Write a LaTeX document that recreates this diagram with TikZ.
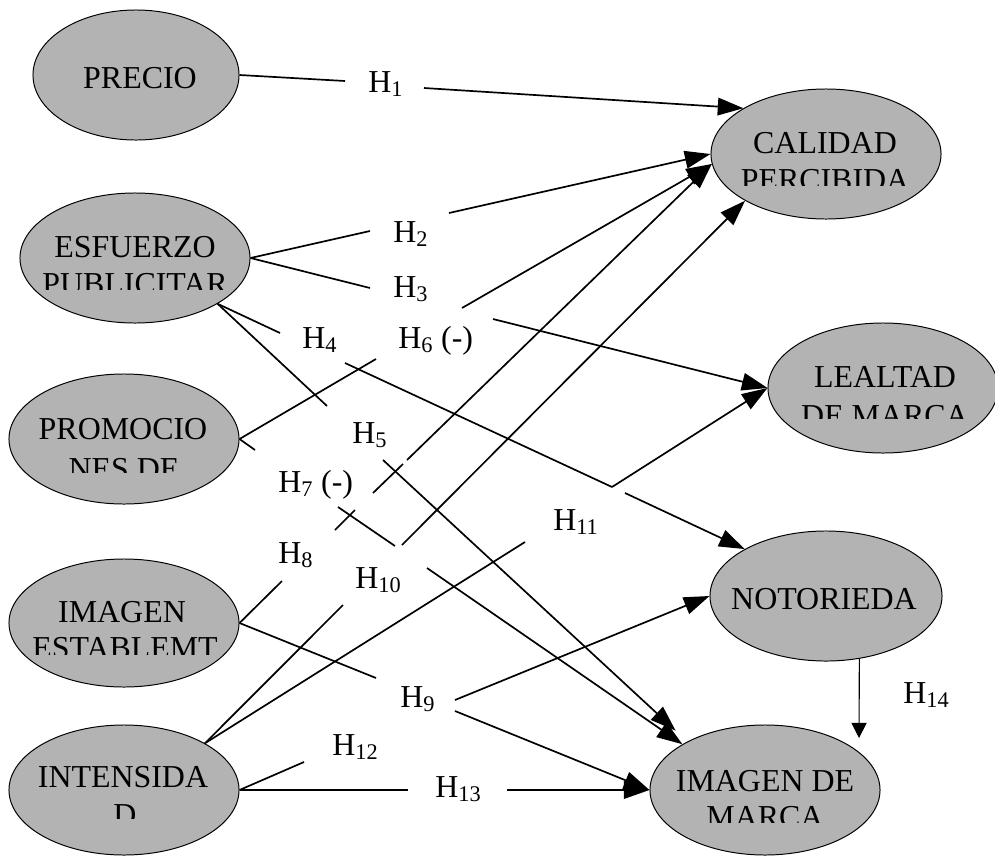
\documentclass[tikz,border=0pt]{standalone}
\usepackage{fontspec}
\setmainfont{Liberation Serif}
\usepackage{tikz}
\usetikzlibrary{arrows.meta,shapes.geometric}
\definecolor{factgray}{HTML}{B3B3B3}

\begin{document}
\begin{tikzpicture}[
    x=0.025cm, y=-0.025cm,
    factor/.style={ellipse, draw=black, line width=0.7pt, fill=factgray, minimum width=5.75cm, minimum height=3.25cm, inner sep=0pt},
    word/.style={anchor=base, inner sep=0pt, font=\fontsize{22.7}{26}\selectfont},
    hyp/.style={anchor=base west, inner sep=0pt, font=\fontsize{22.7}{26}\selectfont},
    hline/.style={line width=1.2pt},
    harrow/.style={line width=1.2pt, -{Triangle[length=6.4mm, width=4.4mm]}}
]
\useasboundingbox (0,0) rectangle (995,856);

% constructs
\node[factor, minimum width=5.15cm] (precio) at (136,75) {};
\node[factor] (esfuerzo) at (135,258) {};
\node[factor] (calidad) at (826,154) {};
\node[factor] (promo) at (124,439) {};
\node[factor] (lealtad) at (883,388) {};
\node[factor, minimum height=3.2cm] (imgest) at (124,623) {};
\node[factor] (intens) at (124,790) {};
\node[factor, minimum width=5.8cm] (notor) at (826,596) {};
\node[factor] (imgmarca) at (765,790) {};

\node[word] (precio-a) at (140,88) {PRECIO};
\node[word] (esfuerzo-a) at (135,257) {ESFUERZO};
\begin{scope}
  \clip (15,260) rectangle (255,289);
  \node[word] (esfuerzo-b) at (135,294) {PUBLICITAR};
\end{scope}
\node[word] (calidad-a) at (825,153) {CALIDAD};
\begin{scope}
  \clip (705,160) rectangle (945,185);
  \node[word] (calidad-b) at (825,190) {PERCIBIDA};
\end{scope}
\node[word] (promo-a) at (123,439) {PROMOCIO};
\begin{scope}
  \clip (5,450) rectangle (240,472);
  \node[word] (promo-b) at (124,479) {NES DE};
\end{scope}
\node[word] (lealtad-a) at (885,387) {LEALTAD};
\begin{scope}
  \clip (770,395) rectangle (995,418);
  \node[word] (lealtad-b) at (885,426) {DE MARCA};
\end{scope}
\node[word] (imgest-a) at (122,622) {IMAGEN};
\begin{scope}
  \clip (5,630) rectangle (240,654);
  \node[word] (imgest-b) at (125,658) {ESTABLEMT};
\end{scope}
\node[word] (intens-a) at (123,787) {INTENSIDA};
\begin{scope}
  \clip (5,795) rectangle (240,818);
  \node[word] (intens-b) at (125,825) {D};
\end{scope}
\node[word] (notor-a) at (824,609) {NOTORIEDA};
\node[word] (imgmarca-a) at (765,791) {IMAGEN DE};
\begin{scope}
  \clip (650,797) rectangle (880,822);
  \node[word] (imgmarca-b) at (765,827) {MARCA};
\end{scope}

% hypotheses
\node[hyp] (h1) at (368,92) {H\textsubscript{1}};
\node[hyp] (h2) at (393,242) {H\textsubscript{2}};
\node[hyp] (h3) at (393,297) {H\textsubscript{3}};
\node[hyp] (h4) at (302,348) {H\textsubscript{4}};
\node[hyp] (h6) at (398,348) {H\textsubscript{6} (-)};
\node[hyp] (h5) at (352,443) {H\textsubscript{5}};
\node[hyp] (h7) at (278,492) {H\textsubscript{7} (-)};
\node[hyp] (h8) at (278,563) {H\textsubscript{8}};
\node[hyp] (h10) at (355,588) {H\textsubscript{10}};
\node[hyp] (h11) at (553,530) {H\textsubscript{11}};
\node[hyp] (h9) at (400,707) {H\textsubscript{9}};
\node[hyp] (h12) at (332,755) {H\textsubscript{12}};
\node[hyp] (h13) at (435,797) {H\textsubscript{13}};
\node[hyp] (h14) at (903,703) {H\textsubscript{14}};

\coordinate (h1a) at (345,81);
\coordinate (h1b) at (424,88);
\coordinate (h2a) at (370,231);
\coordinate (h2b) at (449,213);
\coordinate (h3a) at (370,288);
\coordinate (h3b) at (493,319);
\coordinate (h4a) at (280,333);
\coordinate (h4b) at (345,363);
\coordinate (h4c) at (612,487);
\coordinate (h4d) at (625,493);
\coordinate (h5a) at (327,406);
\coordinate (h5b) at (383,460);
\coordinate (h6a) at (376,359);
\coordinate (h6b) at (462,308);
\coordinate (h7a) at (255,450);
\coordinate (h7b) at (338,507);
\coordinate (h7c) at (395,546);
\coordinate (h7d) at (427,568);
\coordinate (h8a) at (282,581);
\coordinate (h8b) at (335,530);
\coordinate (h8c) at (355,510);
\coordinate (h8d) at (373,493);
\coordinate (h8e) at (403,464);
\coordinate (h8f) at (407,460);
\coordinate (h9a) at (376,678);
\coordinate (h9b) at (455,700);
\coordinate (h9c) at (455,711);
\coordinate (h10a) at (343,605);
\coordinate (h10b) at (402,545);
\coordinate (h11a) at (525,542);
\coordinate (h11b) at (612,487);
\coordinate (h12a) at (304,762);
\coordinate (h13a) at (408,790);
\coordinate (h13b) at (507,790);
\coordinate (h14a) at (859,738);

\draw[hline] (precio.0) -- (h1a);
\draw[harrow] (h1b) -- (calidad.151);
\draw[hline] (esfuerzo.0) -- (h2a);
\draw[harrow] (h2b) -- (calidad.180);
\draw[hline] (esfuerzo.0) -- (h3a);
\draw[harrow] (h3b) -- (lealtad.180);
\draw[hline] (esfuerzo.-29) -- (h4a);
\draw[hline] (h4b) -- (h4c);
\draw[harrow] (h4d) -- (notor.150);
\draw[hline] (esfuerzo.-29) -- (h5a);
\draw[harrow, shorten >=4mm] (h5b) -- (imgmarca.148);
\draw[hline] (promo.0) -- (h6a);
\draw[harrow] (h6b) -- (calidad.185);
\draw[hline] (promo.0) -- (h7a);
\draw[hline] (h7b) -- (h7c);
\draw[harrow] (h7d) -- (imgmarca.151);
\draw[hline] (imgest.0) -- (h8a);
\draw[hline] (h8b) -- (h8c);
\draw[hline] (h8d) -- (h8e);
\draw[harrow] (h8f) -- (calidad.185);
\draw[hline] (imgest.0) -- (h9a);
\draw[harrow] (h9b) -- (notor.180);
\draw[harrow] (h9c) -- (imgmarca.180);
\draw[hline] (intens.30) -- (h10a);
\draw[harrow] (h10b) -- (calidad.210);
\draw[hline] (intens.30) -- (h11a);
\draw[harrow] (h11b) -- (lealtad.180);
\draw[hline] (intens.0) -- (h12a);
\draw[hline] (intens.0) -- (h13a);
\draw[harrow] (h13b) -- (imgmarca.180);
\draw[line width=0.8pt, -{Triangle[length=3.8mm, width=3.8mm]}] (notor.-62) -- (h14a);
\end{tikzpicture}
\end{document}
